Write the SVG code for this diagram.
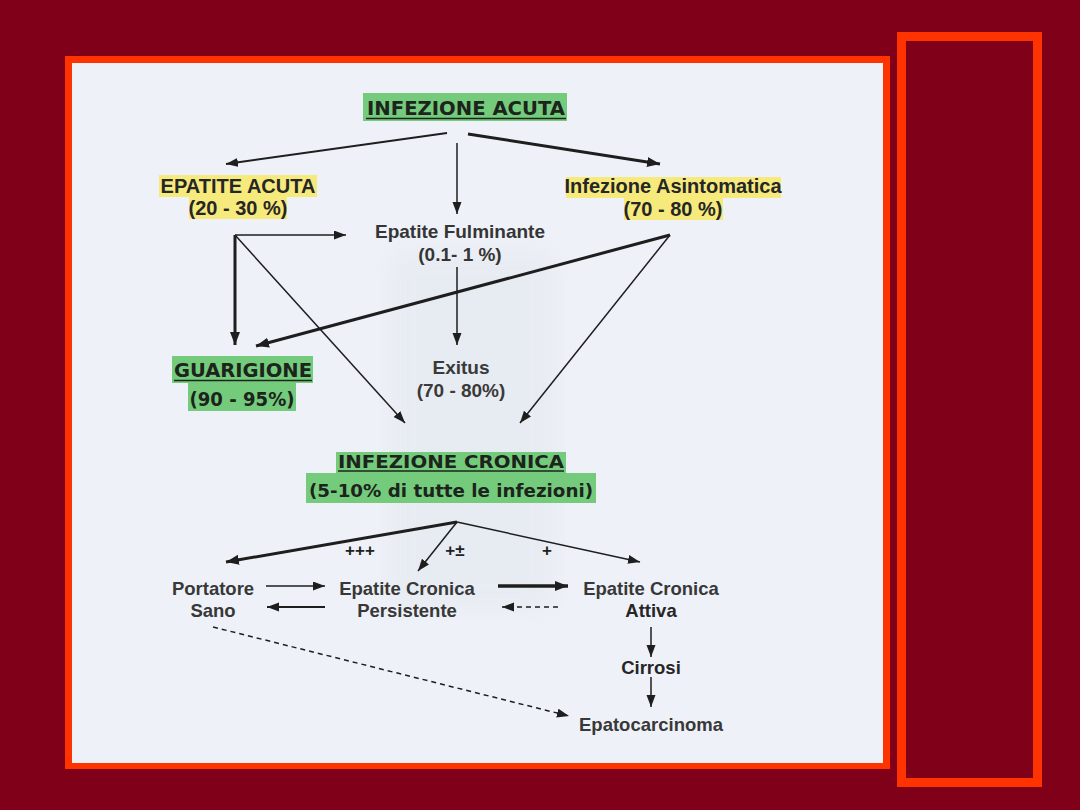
<svg xmlns="http://www.w3.org/2000/svg" width="1080" height="810" viewBox="0 0 1080 810">
<style>
  .lbl { font-family: "Liberation Sans", Arial, sans-serif; font-weight: bold; font-size: 19px; fill: #2e2e2e; text-anchor: middle; }
  .big { font-size: 20px; fill: #262626; }
  .lo { font-size: 18.5px; fill: #383838; }
  .heavy { font-family: "DejaVu Sans", "Liberation Sans", sans-serif; font-weight: bold; fill: #1c241c; text-anchor: middle; }
  .plus { font-family: "Liberation Sans", Arial, sans-serif; font-weight: bold; font-size: 17px; fill: #222; text-anchor: middle; }
  .hg { fill: #74cb7c; }
  .hy { fill: #f6ea7c; }
  .c { stroke: #1e1e1e; fill: none; stroke-linecap: butt; }
  .t1 { stroke-width: 1.5; marker-end: url(#ah); }
  .t2 { stroke-width: 2; marker-end: url(#ah); }
  .t3 { stroke-width: 3; marker-end: url(#ahL); }
  .dash { stroke-dasharray: 5 4; }
  .ul { stroke: #1c241c; stroke-width: 1.5; }
</style>
<defs>
  <marker id="ah" markerUnits="userSpaceOnUse" markerWidth="13" markerHeight="10" refX="12" refY="4.5" orient="auto">
    <path d="M0,0 L12,4.5 L0,9 z" fill="#1e1e1e"/>
  </marker>
  <marker id="ahL" markerUnits="userSpaceOnUse" markerWidth="14" markerHeight="11" refX="13" refY="5" orient="auto">
    <path d="M0,0 L13,5 L0,10 z" fill="#1e1e1e"/>
  </marker>
  <filter id="blur" x="-20%" y="-20%" width="140%" height="140%"><feGaussianBlur stdDeviation="12"/></filter>
</defs>

<!-- background and frames -->
<rect x="0" y="0" width="1080" height="810" fill="#80001a"/>
<rect x="65" y="56" width="825" height="713" fill="#ff3300"/>
<rect x="72" y="63" width="811" height="700" fill="#eef2f8"/>
<rect x="390" y="250" width="165" height="360" fill="#dfe3ea" opacity="0.4" filter="url(#blur)"/>
<rect x="901.5" y="36.5" width="136" height="746" fill="#80001a" stroke="#ff3300" stroke-width="9"/>

<!-- connectors -->
<g id="connectors">
  <line class="c t2" x1="447" y1="133" x2="226" y2="164"/>
  <line class="c t1" x1="457" y1="143" x2="457" y2="214"/>
  <line class="c t3" x1="468" y1="134" x2="660" y2="164"/>
  <line class="c t1" x1="235" y1="235" x2="346" y2="235"/>
  <line class="c t3" x1="235" y1="235" x2="235" y2="345"/>
  <line class="c t1" x1="235" y1="235" x2="405" y2="423"/>
  <line class="c t3" x1="670" y1="235" x2="256" y2="346"/>
  <line class="c t1" x1="670" y1="235" x2="520" y2="423"/>
  <line class="c t1" x1="457" y1="267" x2="457" y2="345"/>
  <line class="c t3" x1="457" y1="522" x2="226" y2="562"/>
  <line class="c t1" x1="457" y1="522" x2="418" y2="571"/>
  <line class="c t1" x1="457" y1="522" x2="640" y2="562"/>
  <line class="c t1" x1="266" y1="586" x2="325" y2="586"/>
  <line class="c t2" x1="325" y1="607" x2="267" y2="607"/>
  <line class="c t3" x1="498" y1="586" x2="568" y2="586" style="stroke-width:3.5"/>
  <line class="c t1 dash" x1="558" y1="607" x2="502" y2="607"/>
  <line class="c t1" x1="651" y1="627" x2="651" y2="657"/>
  <line class="c t1" x1="651" y1="677" x2="651" y2="707"/>
  <line class="c t1 dash" x1="213" y1="627" x2="569" y2="716"/>
</g>

<!-- nodes -->
<g id="infezione-acuta">
  <rect class="hg" x="363" y="93" width="204" height="28"/>
  <text class="heavy" x="466" y="115" font-size="19" textLength="198" lengthAdjust="spacingAndGlyphs">INFEZIONE ACUTA</text>
  <line class="ul" x1="366" y1="118.5" x2="566" y2="118.5"/>
</g>

<g id="epatite-acuta">
  <rect class="hy" x="159" y="175" width="158" height="22"/>
  <rect class="hy" x="189" y="197" width="98" height="22"/>
  <text class="lbl big" x="238" y="193">EPATITE ACUTA</text>
  <text class="lbl big" x="238" y="215">(20 - 30 %)</text>
</g>

<g id="infezione-asintomatica">
  <rect class="hy" x="566" y="177" width="215" height="21"/>
  <rect class="hy" x="624" y="198" width="99" height="22"/>
  <text class="lbl big" x="673" y="193">Infezione Asintomatica</text>
  <text class="lbl big" x="673" y="216">(70 - 80 %)</text>
</g>

<g id="epatite-fulminante">
  <text class="lbl" x="460" y="238" style="fill:#353535">Epatite Fulminante</text>
  <text class="lbl" x="460" y="261" style="fill:#353535">(0.1- 1 %)</text>
</g>

<g id="guarigione">
  <rect class="hg" x="172" y="356" width="141" height="27"/>
  <rect class="hg" x="188" y="383" width="108" height="28"/>
  <text class="heavy" x="243" y="377" font-size="19" textLength="138" lengthAdjust="spacingAndGlyphs">GUARIGIONE</text>
  <line class="ul" x1="174" y1="380.5" x2="312" y2="380.5"/>
  <text class="heavy" x="242" y="406" font-size="19" textLength="105" lengthAdjust="spacingAndGlyphs">(90 - 95%)</text>
</g>

<g id="exitus">
  <text class="lbl" x="461" y="374" style="fill:#3a3a3a">Exitus</text>
  <text class="lbl" x="461" y="397" style="fill:#3a3a3a">(70 - 80%)</text>
</g>

<g id="infezione-cronica">
  <rect class="hg" x="336" y="452" width="230" height="21"/>
  <rect class="hg" x="306" y="473" width="290" height="30"/>
  <text class="heavy" x="451" y="468" font-size="17" textLength="226" lengthAdjust="spacingAndGlyphs">INFEZIONE CRONICA</text>
  <line class="ul" x1="338" y1="471" x2="564" y2="471"/>
  <text class="heavy" x="451" y="497" font-size="18" textLength="284" lengthAdjust="spacingAndGlyphs">(5-10% di tutte le infezioni)</text>
</g>

<g id="branch-labels">
  <text class="plus" x="360" y="556">+++</text>
  <text class="plus" x="455" y="556">+±</text>
  <text class="plus" x="547" y="556">+</text>
</g>

<g id="portatore-sano">
  <text class="lbl lo" x="213" y="595">Portatore</text>
  <text class="lbl lo" x="213" y="617">Sano</text>
</g>

<g id="epatite-cronica-persistente">
  <text class="lbl lo" x="407" y="595">Epatite Cronica</text>
  <text class="lbl lo" x="407" y="617">Persistente</text>
</g>

<g id="epatite-cronica-attiva">
  <text class="lbl lo" x="651" y="595">Epatite Cronica</text>
  <text class="lbl lo" x="651" y="617" style="fill:#262626">Attiva</text>
</g>

<g id="cirrosi">
  <text class="lbl lo" x="651" y="674" style="fill:#262626">Cirrosi</text>
</g>

<g id="epatocarcinoma">
  <text class="lbl lo" x="651" y="731">Epatocarcinoma</text>
</g>
</svg>
